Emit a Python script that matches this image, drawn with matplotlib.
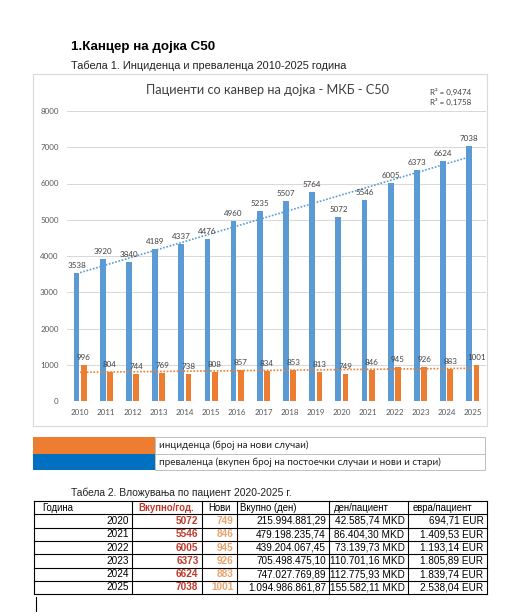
import numpy as np
import matplotlib
matplotlib.use("Agg")
import matplotlib.pyplot as plt
from matplotlib.patches import Rectangle
from matplotlib.lines import Line2D

# chart data
years = [2010, 2011, 2012, 2013, 2014, 2015, 2016, 2017,
         2018, 2019, 2020, 2021, 2022, 2023, 2024, 2025]
prevalence = [3538, 3920, 3840, 4189, 4337, 4476, 4960, 5235,
              5507, 5764, 5072, 5546, 6005, 6373, 6624, 7038]
incidence = [996, 804, 744, 769, 738, 808, 857, 834,
             853, 813, 749, 846, 945, 926, 883, 1001]
r2_labels = ["R² = 0,9474", "R² = 0,1758"]

# table 2 data
t_header = ["Година", "Вкупно/год.", "Нови", "Вкупно (ден)", "ден/пациент", "евра/пациент"]
t_years = ["2020", "2021", "2022", "2023", "2024", "2025"]
t_total = ["5072", "5546", "6005", "6373", "6624", "7038"]
t_new = ["749", "846", "945", "926", "883", "1001"]
t_den = ["215.994.881,29", "479.198.235,74", "439.204.067,45",
         "705.498.475,10", "747.027.769,89", "1.094.986.861,87"]
t_den_pat = ["42.585,74 MKD", "86.404,30 MKD", "73.139,73 MKD",
             "110.701,16 MKD", "112.775,93 MKD", "155.582,11 MKD"]
t_eur_pat = ["694,71 EUR", "1.409,53 EUR", "1.193,14 EUR",
             "1.805,89 EUR", "1.839,74 EUR", "2.538,04 EUR"]

BLUE = "#5B9BD5"
ORANGE = "#ED7D31"
chart_font = ["Lato", "DejaVu Sans"]
arial = ["Liberation Sans", "DejaVu Sans"]

W, H = 512, 616
fig = plt.figure(figsize=(W / 100, H / 100), dpi=100)
fig.patch.set_facecolor("white")

def fx(x):
    return x / W

def fy(y):
    return 1 - y / H

def ftext(x, y, s, **kw):
    fig.text(fx(x), fy(y), s, **kw)

# headings
ftext(71, 47, "1.Канцер на дојка C50", fontsize=9.6, fontweight="bold",
      family=arial, va="center", ha="left")
ftext(71, 66, "Табела 1. Инциденца и преваленца 2010-2025 година", fontsize=7.9,
      family=arial, va="center", ha="left", color="#222222")

# chart frame
fig.add_artist(Rectangle((fx(33), fy(426)), fx(487) - fx(33), fy(74) - fy(426),
                         transform=fig.transFigure, fill=False,
                         edgecolor="#D9D9D9", lw=0.8))

ax = fig.add_axes([fx(67), fy(401), fx(486) - fx(67), fy(111) - fy(401)])
x = np.arange(len(years))
bw = 0.22
off = 0.138
ax.bar(x - off, prevalence, bw, color=BLUE, zorder=3)
ax.bar(x + off, incidence, bw, color=ORANGE, zorder=3)

# linear trend lines
for vals, col in [(prevalence, BLUE), (incidence, ORANGE)]:
    k, b = np.polyfit(x, vals, 1)
    ax.plot(x, k * x + b, ls=(0, (1, 1)), color=col, lw=1.2, zorder=4)

for xi, v in zip(x, prevalence):
    ax.text(xi - off, v + 110, str(v), ha="center", va="bottom", fontsize=5.8,
            family=chart_font, color="#404040", zorder=5)
for xi, v in zip(x, incidence):
    ax.text(xi + off, v + 110, str(v), ha="center", va="bottom", fontsize=5.8,
            family=chart_font, color="#404040", zorder=5)

ax.set_xlim(-0.5, len(years) - 0.5)
ax.set_ylim(0, 8000)
ax.set_yticks(range(0, 8001, 1000))
ax.set_xticks(x)
ax.set_xticklabels([str(y) for y in years])
ax.yaxis.grid(True, color="#D9D9D9", lw=0.75, zorder=0)
ax.set_axisbelow(True)
for s in ax.spines.values():
    s.set_visible(False)
ax.tick_params(length=0, labelsize=5.8, labelcolor="#595959", pad=6)
for lab in ax.get_xticklabels() + ax.get_yticklabels():
    lab.set_family(chart_font)

ftext(267, 90, "Пациенти со канвер на дојка - МКБ - С50", fontsize=9.2,
      family=chart_font, ha="center", va="center", color="#404040")
ftext(430, 92, r2_labels[0], fontsize=5.8, family=chart_font, va="center", color="#404040")
ftext(430, 102, r2_labels[1], fontsize=5.8, family=chart_font, va="center", color="#404040")

# legend table
fig.add_artist(Rectangle((fx(33), fy(454)), fx(155) - fx(33), fy(437) - fy(454),
                         transform=fig.transFigure, color=ORANGE, lw=0))
fig.add_artist(Rectangle((fx(33), fy(470)), fx(155) - fx(33), fy(454) - fy(470),
                         transform=fig.transFigure, color="#0070C0", lw=0))
fig.add_artist(Rectangle((fx(155), fy(470)), fx(485) - fx(155), fy(437) - fy(470),
                         transform=fig.transFigure, fill=False, edgecolor="#BFBFBF", lw=0.7))
fig.add_artist(Line2D([fx(155), fx(485)], [fy(454), fy(454)],
                      transform=fig.transFigure, color="#BFBFBF", lw=0.7))
ftext(159, 445, "инциденца (број на нови случаи)", fontsize=7.1,
      family=chart_font, va="center", color="#222222")
ftext(159, 462, "преваленца (вкупен број на постоечки случаи и нови и стари)", fontsize=7.1,
      family=chart_font, va="center", color="#222222")

# table 2
ftext(71, 493, "Табела 2. Вложувања по пациент 2020-2025 г.", fontsize=7.4,
      family=arial, va="center", color="#222222")
cols = [34, 131.5, 201.5, 236.5, 329, 407.5, 486.5]
top, rh = 501, 13.3
nrows = len(t_years) + 1
bottom = top + nrows * rh
for cx in cols:
    fig.add_artist(Line2D([fx(cx), fx(cx)], [fy(top), fy(bottom)],
                          transform=fig.transFigure, color="black", lw=0.8))
for r in range(nrows + 1):
    yy = top + r * rh
    fig.add_artist(Line2D([fx(cols[0]), fx(cols[-1])], [fy(yy), fy(yy)],
                          transform=fig.transFigure, color="black", lw=0.8))

hy = top + rh / 2
ftext(cols[0] + 8, hy, t_header[0], fontsize=6.9, family=arial, va="center")
ftext((cols[1] + cols[2]) / 2, hy, t_header[1], fontsize=6.9, family=arial,
      va="center", ha="center", color="#C0392B", fontweight="bold")
ftext((cols[2] + cols[3]) / 2, hy, t_header[2], fontsize=6.9, family=arial,
      va="center", ha="center")
ftext(cols[3] + 4, hy, t_header[3], fontsize=6.9, family=arial, va="center")
ftext(cols[4] + 5, hy, t_header[4], fontsize=6.9, family=arial, va="center")
ftext(cols[5] + 5, hy, t_header[5], fontsize=6.9, family=arial, va="center")

rows = zip(t_years, t_total, t_new, t_den, t_den_pat, t_eur_pat)
for i, row in enumerate(rows):
    yy = top + (i + 1.5) * rh
    styles = [
        dict(color="black"),
        dict(color="#C0392B", fontweight="bold"),
        dict(color="#E8A46E", fontweight="bold"),
        dict(color="black"),
        dict(color="black"),
        dict(color="black"),
    ]
    for j, val in enumerate(row):
        ftext(cols[j + 1] - 3, yy, val, fontsize=7.2, family=arial,
              va="center", ha="right", **styles[j])

# text cursor mark
fig.add_artist(Line2D([fx(35.5), fx(35.5)], [fy(597), fy(611)],
                      transform=fig.transFigure, color="black", lw=0.8))

fig.savefig("out.png", dpi=100, facecolor="white")
